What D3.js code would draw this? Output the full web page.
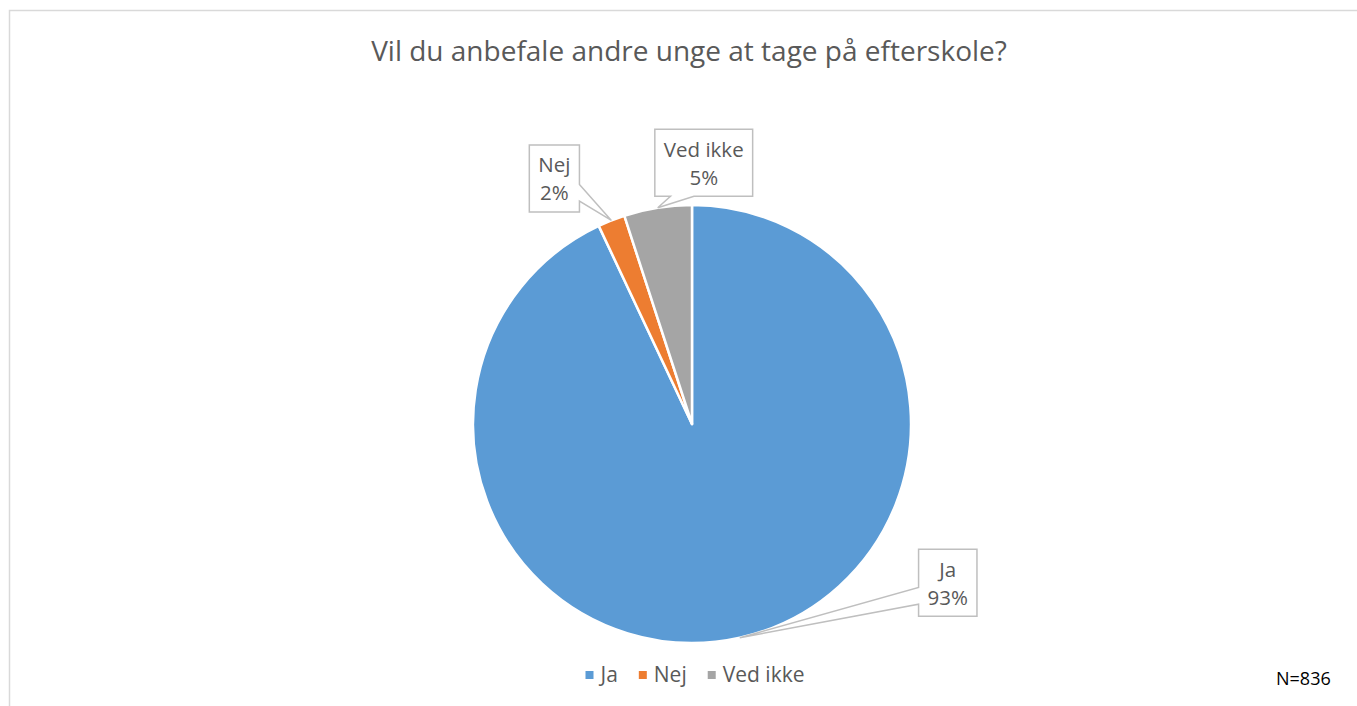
<!DOCTYPE html>
<html lang="da">
<head>
<meta charset="UTF-8" />
<title>Vil du anbefale andre unge at tage på efterskole?</title>
<script src="https://d3js.org/d3.v7.min.js"></script>
<style>
    body { margin: 0; background: #fff; }
    text { font-family: "Open Sans", sans-serif; }
</style>
</head>
<body>
<div id="chart"></div>
<script>
    // data
    const categories = ["Ja", "Nej", "Ved ikke"]
    const values = [93, 2, 5]
    const colors = ["#5B9BD5", "#ED7D31", "#A5A5A5"]
    const title = "Vil du anbefale andre unge at tage på efterskole?"
    const note = "N=836"

    // callout placement (offset of box centre from the slice edge, wedge side)
    const calloutDx = [208, -57, 46]
    const calloutDy = [-55, -42, -45]
    const calloutSide = ["left", "right", "bottom"]
    const wedgeFrom = [0.57, 0.59, 0.16]
    const wedgeTo = [0.82, 0.84, 0.40]

    const width = 1357, height = 706
    const cx = 692, cy = 424, radius = 219
    const textGrey = "#595959"

    const svg = d3.select("#chart").append("svg")
        .attr("width", width)
        .attr("height", height)

    // chart area border (only top and left visible)
    svg.append("rect")
        .attr("x", 9.5).attr("y", 10.5)
        .attr("width", 1400).attr("height", 800)
        .attr("fill", "none")
        .attr("stroke", "#D9D9D9")
        .attr("stroke-width", 1.5)

    svg.append("text")
        .attr("x", 689)
        .attr("y", 61)
        .attr("text-anchor", "middle")
        .attr("font-size", 28)
        .attr("fill", textGrey)
        .text(title)

    const pie = d3.pie().sort(null).value(d => d)
    const arcs = pie(values)
    const arc = d3.arc().innerRadius(0).outerRadius(radius)

    const g = svg.append("g").attr("transform", `translate(${cx},${cy})`)

    g.selectAll("path.slice")
        .data(arcs)
        .join("path")
        .attr("class", "slice")
        .attr("d", arc)
        .attr("fill", (d, i) => colors[i])
        .attr("stroke", "#fff")
        .attr("stroke-width", 2.5)
        .attr("stroke-linejoin", "round")

    // callouts
    arcs.forEach((d, i) => {
        const mid = (d.startAngle + d.endAngle) / 2
        const tip = [radius * Math.sin(mid), -radius * Math.cos(mid)]
        const bx = tip[0] + calloutDx[i], by = tip[1] + calloutDy[i]

        const lg = g.append("g")
        const t1 = lg.append("text")
            .attr("x", bx).attr("y", by - 6)
            .attr("text-anchor", "middle")
            .attr("font-size", 20.5)
            .attr("fill", textGrey)
            .text(categories[i])
        const t2 = lg.append("text")
            .attr("x", bx).attr("y", by + 22)
            .attr("text-anchor", "middle")
            .attr("font-size", 20.5)
            .attr("fill", textGrey)
            .text(values[i] + "%")

        const tw = Math.max(t1.node().getComputedTextLength(), t2.node().getComputedTextLength())
        const w = tw + 18, h = 67
        const x0 = bx - w / 2, x1 = bx + w / 2, y0 = by - h / 2, y1 = by + h / 2
        const side = calloutSide[i], f1 = wedgeFrom[i], f2 = wedgeTo[i]

        const pts = [[x0, y0], [x1, y0]]
        if (side === "right") pts.push([x1, y0 + f1 * h], tip, [x1, y0 + f2 * h])
        pts.push([x1, y1])
        if (side === "bottom") pts.push([x0 + f2 * w, y1], tip, [x0 + f1 * w, y1])
        pts.push([x0, y1])
        if (side === "left") pts.push([x0, y0 + f2 * h], tip, [x0, y0 + f1 * h])

        lg.insert("path", "text")
            .attr("d", "M" + pts.map(p => p.join(",")).join("L") + "Z")
            .attr("fill", "#fff")
            .attr("stroke", "#BFBFBF")
            .attr("stroke-width", 1.5)
    })

    // legend
    const legend = svg.append("g")
    let lx = 0
    categories.forEach((c, i) => {
        legend.append("rect")
            .attr("x", lx).attr("y", 671)
            .attr("width", 8).attr("height", 8)
            .attr("fill", colors[i])
        const t = legend.append("text")
            .attr("x", lx + 15).attr("y", 682)
            .attr("font-size", 21)
            .attr("fill", textGrey)
            .text(c)
        lx += 15 + t.node().getComputedTextLength() + 21
    })
    const legendWidth = lx - 21
    legend.attr("transform", `translate(${695 - legendWidth / 2},0)`)

    svg.append("text")
        .attr("x", 1276)
        .attr("y", 685)
        .attr("font-size", 18)
        .attr("fill", "#000")
        .text(note)
</script>
</body>
</html>
